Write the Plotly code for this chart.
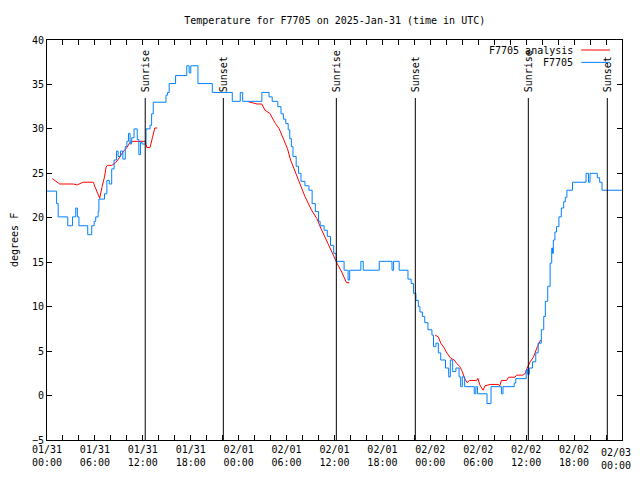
import plotly.graph_objects as go

# ---------------- data ----------------
title_text = "Temperature for F7705 on 2025-Jan-31 (time in UTC)"
y_label = "degrees F"

# hours since 2025-01-31 00:00 UTC
obs_hours = [0.0, 1.2, 1.4, 2.6, 3.2, 3.6, 3.8, 4.0, 5.1, 5.6, 5.9, 6.1, 6.4, 6.5, 7.2, 7.5, 7.8,
             8.1, 8.4, 8.7, 8.9, 9.2, 9.5, 9.8, 10.0, 10.2, 10.4, 10.6, 10.9, 11.3, 11.5, 11.7,
             11.9, 12.4, 12.9, 13.1, 13.3, 14.9, 15.1, 15.3, 16.1, 17.5, 17.8, 18.0, 18.9, 20.7,
             23.2, 24.2, 24.5, 26.9, 27.8, 28.2, 28.9, 29.3, 29.6, 29.9, 30.2, 30.4, 30.6, 30.8,
             31.2, 31.5, 31.8, 32.3, 32.8, 33.2, 33.6, 34.0, 34.2, 34.7, 35.1, 35.5, 35.9, 36.2,
             37.2, 37.7, 37.9, 39.3, 39.6, 41.6, 43.2, 43.4, 43.8, 44.1, 45.2, 45.6, 45.9, 46.2,
             46.5, 46.7, 47.0, 47.3, 47.7, 48.2, 48.4, 48.7, 49.0, 49.3, 49.9, 50.3, 50.5, 50.8,
             51.2, 51.6, 51.8, 52.0, 52.3, 53.5, 53.7, 53.9, 55.1, 55.6, 56.9, 57.1, 58.5, 58.7,
             60.0, 60.2, 60.4, 60.8, 61.2, 61.5, 61.9, 62.2, 62.4, 62.7, 63.0, 63.2, 63.3, 63.4,
             63.6, 63.8, 64.1, 64.4, 64.7, 64.9, 65.1, 65.8, 67.5, 67.8, 68.0, 68.9, 69.2, 69.5,
             72.0]
obs_temps = [23.0, 21.6, 20.1, 19.1, 20.1, 21.1, 20.1, 19.1, 18.1, 19.1, 19.6, 20.1, 20.7, 22.1,
             22.7, 24.2, 23.8, 25.5, 26.5, 27.5, 26.9, 27.5, 26.6, 28.0, 28.6, 29.5, 28.3, 29.0,
             30.0, 28.8, 27.1, 28.5, 28.3, 30.0, 30.4, 31.7, 33.0, 33.8, 34.1, 35.1, 36.0, 37.1,
             36.3, 37.1, 35.1, 34.1, 33.1, 34.1, 33.1, 34.1, 33.6, 33.1, 32.5, 31.7, 31.1, 30.6,
             29.9, 28.9, 28.0, 26.9, 25.8, 25.0, 24.1, 23.6, 23.1, 21.6, 20.7, 19.6, 19.1, 18.6,
             17.9, 16.9, 16.0, 15.1, 14.1, 13.0, 14.1, 15.1, 14.1, 15.1, 14.1, 15.1, 15.1, 14.1,
             13.1, 12.6, 11.5, 10.7, 10.0, 9.4, 8.9, 8.2, 7.4, 6.8, 5.5, 5.9, 4.8, 4.0, 3.1, 2.1,
             4.0, 2.7, 3.1, 2.1, 1.0, 2.1, 1.0, 0.2, 1.0, 0.2, -0.9, 1.0, 0.2, 1.0, 1.4, 1.9, 2.9,
             2.4, 3.1, 3.8, 4.8, 5.9, 7.4, 8.9, 10.6, 12.3, 14.9, 16.6, 16.0, 17.5, 18.4, 19.0,
             20.1, 21.1, 21.8, 22.3, 23.1, 24.0, 25.0, 24.0, 25.0, 24.5, 24.0, 23.1, 23.1]

ana_hours = [0.66, 1.0, 1.6, 3.3, 3.8, 4.5, 5.8, 6.0, 6.4, 6.6, 6.9, 7.2, 7.4, 7.6, 8.1, 8.6, 9.1,
             9.5, 10.0, 10.4, 10.6, 12.3, 12.5, 12.9, 13.2, 13.5, 13.8,
             None,
             25.2, 26.3, 26.9, 27.3, 27.9, 28.6, 29.05, 29.6, 30.1, 30.5, 31.05, 31.6, 32.3, 33.1,
             33.8, 34.2, 34.8, 35.4, 35.85, 36.3, 36.9, 37.5, 37.85,
             None,
             48.6, 49.0, 49.3, 49.7, 50.1, 50.55, 51.0, 51.3, 51.7, 52.0, 52.3, 52.6, 52.9, 53.8,
             53.95, 54.2, 54.6, 54.85, 55.5, 56.5, 56.7, 56.9, 57.55, 57.8, 58.6, 58.8, 59.6, 59.9,
             60.1, 60.5, 60.9, 61.2, 61.4, 61.8]
ana_temps = [24.4, 24.2, 23.8, 23.8, 23.7, 24.0, 24.0, 23.5, 22.7, 22.2, 23.5, 24.6, 25.7, 25.9,
             25.9, 26.2, 26.8, 27.4, 27.9, 28.5, 28.6, 28.6, 27.9, 27.9, 29.0, 30.1, 30.1,
             None,
             33.06, 32.8, 32.8, 32.1, 31.75, 30.6, 30.06, 28.9, 27.8, 26.5, 25.2, 23.9, 22.4, 20.9,
             19.9, 19.0, 17.9, 16.75, 15.8, 14.9, 13.9, 12.7, 12.7,
             None,
             6.8, 6.6, 5.9, 5.4, 4.75, 4.2, 4.0, 3.6, 3.25, 2.7, 1.94, 1.45, 1.7, 1.7, 1.94, 1.2,
             0.6, 1.1, 1.25, 1.25, 1.1, 1.7, 1.7, 2.06, 2.06, 2.3, 2.3, 2.5, 3.06, 3.8, 4.3, 5.06,
             5.5, 6.25]

sun_names = ["Sunrise", "Sunset", "Sunrise", "Sunset", "Sunrise", "Sunset"]
sun_hours = [12.3, 22.08, 36.23, 46.12, 60.27, 70.16]

tick_hours = [0, 6, 12, 18, 24, 30, 36, 42, 48, 54, 60, 66, 72]
tick_labels = ["01/31<br>00:00", "01/31<br>06:00", "01/31<br>12:00", "01/31<br>18:00",
               "02/01<br>00:00", "02/01<br>06:00", "02/01<br>12:00", "02/01<br>18:00",
               "02/02<br>00:00", "02/02<br>06:00", "02/02<br>12:00", "02/02<br>18:00",
               "02/03<br>00:00"]
y_ticks = [-5, 0, 5, 10, 15, 20, 25, 30, 35, 40]

series_names = ["F7705 analysis", "F7705"]
series_colors = ["#ff0000", "#0080ff"]

# ---------------- figure ----------------
FONT = "DejaVu Sans Mono"
# the page body has an 8px margin, so the figure is sized/offset to compensate
W, H = 632, 464
fig = go.Figure()
fig.add_trace(go.Scatter(x=ana_hours, y=ana_temps, mode="lines", name=series_names[0],
                         line=dict(color=series_colors[0], width=1), connectgaps=False))
fig.add_trace(go.Scatter(x=obs_hours, y=obs_temps, mode="lines", name=series_names[1],
                         line=dict(color=series_colors[1], width=1, shape="hv")))

shapes = []
annotations = []
for name, h in zip(sun_names, sun_hours):
    shapes.append(dict(type="line", xref="x", yref="paper", x0=h, x1=h, y0=0, y1=0.855,
                       line=dict(color="black", width=1)))
    annotations.append(dict(x=h, xref="x", y=0.855, yref="paper", text=name, textangle=-90,
                            showarrow=False, xanchor="center", yanchor="bottom", yshift=4,
                            font=dict(family=FONT, size=10, color="black")))

# legend (gnuplot style: text then sample on the right)
leg_y = [0.975, 0.944]
for name, col, yy in zip(series_names, series_colors, leg_y):
    annotations.append(dict(x=0.918, xref="paper", y=yy, yref="paper", text=name,
                            showarrow=False, xanchor="right", yanchor="middle",
                            font=dict(family=FONT, size=10, color="black")))
    shapes.append(dict(type="line", xref="paper", yref="paper", x0=0.929, x1=0.979,
                       y0=yy, y1=yy, line=dict(color=col, width=1)))

annotations.append(dict(x=0, xref="paper", xshift=-33, y=0.5, yref="paper", text=y_label,
                        textangle=-90, showarrow=False, xanchor="center", yanchor="middle",
                        font=dict(family=FONT, size=10, color="black")))

# the last tick label would be clipped at the window edge; draw it right-aligned instead
annotations.append(dict(x=tick_hours[-1], xref="x", y=0, yref="paper", text=tick_labels[-1],
                        showarrow=False, xanchor="right", yanchor="top", xshift=11, yshift=-5,
                        align="left", font=dict(family=FONT, size=10, color="black")))
shown_ticktext = tick_labels[:-1] + [""]

fig.update_layout(
    width=W, height=H,
    margin=dict(l=39, r=18, t=32, b=32, autoexpand=False),
    paper_bgcolor="white", plot_bgcolor="white",
    showlegend=False,
    font=dict(family=FONT, size=10, color="black"),
    title=dict(text=title_text, x=0.517, xanchor="center", y=1 - 12 / H, yanchor="middle",
               yref="container", font=dict(family=FONT, size=10, color="black")),
    shapes=shapes,
    annotations=annotations,
    xaxis=dict(range=[0, 72], tickvals=tick_hours, ticktext=shown_ticktext, ticks="inside",
               ticklen=5, tickcolor="black", showline=True, linecolor="black", linewidth=1,
               mirror="ticks", showgrid=False, zeroline=False, ticklabeloverflow="allow",
               minor=dict(dtick=2, ticks="inside", ticklen=5, tickcolor="black", showgrid=False),
               tickfont=dict(family=FONT, size=10, color="black")),
    yaxis=dict(range=[-5, 40], tickvals=y_ticks, ticks="inside", ticklen=5, tickcolor="black",
               showline=True, linecolor="black", linewidth=1, mirror="ticks", showgrid=False,
               zeroline=False, tickfont=dict(family=FONT, size=10, color="black")),
)

fig.write_html("out.html")
